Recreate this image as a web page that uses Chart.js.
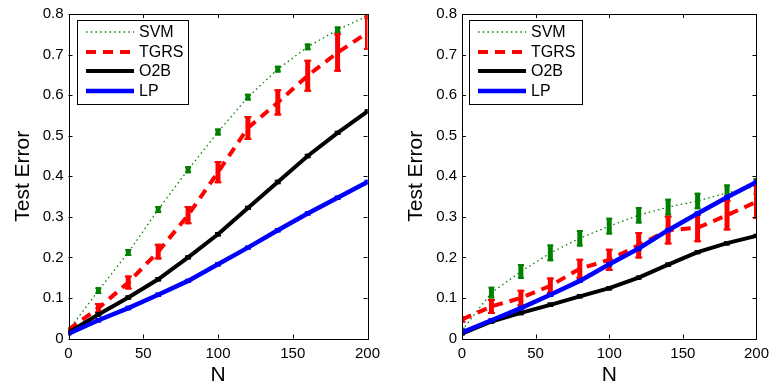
<!DOCTYPE html>
<html lang="en">
<head>
<meta charset="UTF-8">
<title>Test Error vs N</title>
<script src="https://cdn.jsdelivr.net/npm/chart.js"></script>
<style>
  body { margin: 0; background: #fff; }
  .panel { position: absolute; top: 0; }
</style>
</head>
<body>
<div class="panel" style="left:0"><canvas id="leftChart" width="390" height="388"></canvas></div>
<div class="panel" style="left:390px"><canvas id="rightChart" width="385" height="388"></canvas></div>
<script>
// x positions (N)
var nValues = [0, 20, 40, 60, 80, 100, 120, 140, 160, 180, 200];
var xTicks = [0, 50, 100, 150, 200];
var yTicks = [0, 0.1, 0.2, 0.3, 0.4, 0.5, 0.6, 0.7, 0.8];

// left panel
var svmLeft    = [0.02, 0.118, 0.212, 0.318, 0.416, 0.509, 0.595, 0.664, 0.719, 0.761, 0.795];
var svmLeftErr = [0.004, 0.006, 0.006, 0.006, 0.006, 0.006, 0.006, 0.006, 0.006, 0.006, 0.006];
var tgrsLeft    = [0.022, 0.075, 0.138, 0.214, 0.304, 0.41, 0.519, 0.582, 0.648, 0.705, 0.754];
var tgrsLeftErr = [0.004, 0.01, 0.015, 0.017, 0.02, 0.025, 0.027, 0.03, 0.037, 0.045, 0.04];
var o2bLeft    = [0.015, 0.059, 0.101, 0.146, 0.2, 0.257, 0.322, 0.386, 0.45, 0.507, 0.56];
var o2bLeftErr = [0.002, 0.003, 0.003, 0.003, 0.003, 0.003, 0.003, 0.003, 0.003, 0.003, 0.003];
var lpLeft    = [0.012, 0.045, 0.075, 0.108, 0.142, 0.183, 0.224, 0.267, 0.308, 0.347, 0.386];
var lpLeftErr = [0.002, 0.003, 0.003, 0.003, 0.003, 0.003, 0.003, 0.003, 0.003, 0.003, 0.003];

// right panel
var svmRight    = [0.02, 0.113, 0.165, 0.211, 0.247, 0.277, 0.304, 0.324, 0.339, 0.359, 0.375];
var svmRightErr = [0.004, 0.012, 0.016, 0.018, 0.018, 0.018, 0.018, 0.018, 0.018, 0.018, 0.018];
var tgrsRight    = [0.047, 0.079, 0.1, 0.13, 0.172, 0.194, 0.23, 0.267, 0.273, 0.304, 0.337];
var tgrsRightErr = [0.006, 0.016, 0.018, 0.018, 0.022, 0.025, 0.03, 0.033, 0.033, 0.035, 0.04];
var o2bRight    = [0.012, 0.042, 0.063, 0.083, 0.104, 0.124, 0.15, 0.182, 0.213, 0.235, 0.253];
var o2bRightErr = [0.002, 0.003, 0.003, 0.003, 0.003, 0.003, 0.003, 0.003, 0.003, 0.003, 0.003];
var lpRight    = [0.015, 0.045, 0.075, 0.108, 0.142, 0.183, 0.222, 0.267, 0.308, 0.348, 0.386];
var lpRightErr = [0.002, 0.003, 0.003, 0.003, 0.003, 0.003, 0.003, 0.003, 0.003, 0.003, 0.003];

var FONT = "'Liberation Sans', Arial, Helvetica, sans-serif";

function pts(vals) {
  return nValues.map(function (n, i) { return { x: n, y: vals[i] }; });
}

// errorbars, box, inward ticks and legend, drawn like matlab
var matlabPlot = {
  id: 'matlabPlot',
  afterDatasetDraw: function (chart, args) {
    var ds = chart.data.datasets[args.index];
    if (!ds.errors) return;
    var ctx = chart.ctx, xs = chart.scales.x, ys = chart.scales.y, a = chart.chartArea;
    ctx.save();
    ctx.beginPath();
    ctx.rect(a.left, a.top, a.right - a.left, a.bottom - a.top);
    ctx.clip();
    ctx.strokeStyle = ds.borderColor;
    ctx.setLineDash([]);
    ds.data.forEach(function (p, i) {
      var e = ds.errors[i];
      var x = xs.getPixelForValue(p.x);
      var y1 = ys.getPixelForValue(p.y - e), y2 = ys.getPixelForValue(p.y + e);
      ctx.lineWidth = ds.barWidth;
      ctx.beginPath();
      ctx.moveTo(x, y1 + 1); ctx.lineTo(x, y2 - 1);
      ctx.stroke();
      ctx.lineWidth = 2;
      ctx.beginPath();
      ctx.moveTo(x - ds.capHalf, y1); ctx.lineTo(x + ds.capHalf, y1);
      ctx.moveTo(x - ds.capHalf, y2); ctx.lineTo(x + ds.capHalf, y2);
      ctx.stroke();
    });
    ctx.restore();
  },
  afterDraw: function (chart, args, opts) {
    var ctx = chart.ctx, a = chart.chartArea, xs = chart.scales.x, ys = chart.scales.y;
    ctx.save();
    ctx.strokeStyle = '#000';
    ctx.lineWidth = 1;
    ctx.setLineDash([]);
    ctx.strokeRect(Math.round(a.left) + 0.5, Math.round(a.top) + 0.5,
      Math.round(a.right - a.left), Math.round(a.bottom - a.top));
    var t = 4;
    ctx.beginPath();
    xs.ticks.forEach(function (tk) {
      var x = Math.round(xs.getPixelForValue(tk.value)) + 0.5;
      ctx.moveTo(x, a.bottom); ctx.lineTo(x, a.bottom - t);
      ctx.moveTo(x, a.top); ctx.lineTo(x, a.top + t);
    });
    ys.ticks.forEach(function (tk) {
      var y = Math.round(ys.getPixelForValue(tk.value)) + 0.5;
      ctx.moveTo(a.left, y); ctx.lineTo(a.left + t, y);
      ctx.moveTo(a.right, y); ctx.lineTo(a.right - t, y);
    });
    ctx.stroke();

    // legend
    var lx = opts.x, ly = opts.y, w = opts.w, h = 84;
    ctx.fillStyle = '#fff';
    ctx.fillRect(lx, ly, w, h);
    ctx.strokeRect(lx + 0.5, ly + 0.5, w, h);
    var rows = [12, 32, 51, 71];
    ctx.font = '16px ' + FONT;
    ctx.textBaseline = 'middle';
    chart.data.datasets.forEach(function (ds, i) {
      var y = ly + rows[i];
      ctx.strokeStyle = ds.borderColor;
      ctx.lineWidth = ds.borderWidth;
      ctx.lineCap = 'butt';
      ctx.setLineDash(ds.borderDash || []);
      ctx.beginPath();
      ctx.moveTo(lx + 9, y); ctx.lineTo(lx + 57, y);
      ctx.stroke();
      ctx.fillStyle = '#000';
      ctx.fillText(ds.label, lx + 62, y + 1);
    });
    ctx.restore();
  }
};

function makeChart(id, svm, svmErr, tgrs, tgrsErr, o2b, o2bErr, lp, lpErr, pad, yWidth, titlePad, legend) {
  return new Chart(document.getElementById(id), {
    type: 'line',
    data: {
      datasets: [
        { label: 'SVM', data: pts(svm), errors: svmErr, borderColor: 'rgb(0,128,0)', borderWidth: 1.3,
          borderDash: [1.5, 3.2], barWidth: 5, capHalf: 3, order: 3 },
        { label: 'TGRS', data: pts(tgrs), errors: tgrsErr, borderColor: 'rgb(255,0,0)', borderWidth: 4,
          borderDash: [10, 7], barWidth: 5, capHalf: 3.5, order: 2 },
        { label: 'O2B', data: pts(o2b), errors: o2bErr, borderColor: '#000', borderWidth: 4,
          barWidth: 3, capHalf: 3, order: 1 },
        { label: 'LP', data: pts(lp), errors: lpErr, borderColor: 'rgb(0,0,255)', borderWidth: 4.5,
          barWidth: 3, capHalf: 3, order: 0 }
      ]
    },
    options: {
      responsive: false,
      animation: false,
      devicePixelRatio: 1,
      layout: { padding: pad },
      elements: { point: { radius: 0 }, line: { tension: 0, fill: false, borderCapStyle: 'butt' } },
      plugins: {
        legend: { display: false },
        tooltip: { enabled: false },
        matlabPlot: legend
      },
      scales: {
        x: {
          type: 'linear', min: 0, max: 200,
          afterBuildTicks: function (s) { s.ticks = xTicks.map(function (v) { return { value: v }; }); },
          afterFit: function (s) { s.height = 49.5; },
          grid: { display: false, drawTicks: false },
          border: { display: false },
          ticks: { color: '#000', font: { family: FONT, size: 15 }, padding: 6, maxRotation: 0 },
          title: { display: true, text: 'N', color: '#000', font: { family: FONT, size: 21 }, padding: { top: 0, bottom: 0 } }
        },
        y: {
          min: 0, max: 0.8,
          afterBuildTicks: function (s) { s.ticks = yTicks.map(function (v) { return { value: v }; }); },
          afterFit: function (s) { s.width = yWidth; },
          grid: { display: false, drawTicks: false },
          border: { display: false },
          ticks: {
            color: '#000', font: { family: FONT, size: 15 }, padding: 5,
            callback: function (v) { return v === 0 ? '0' : v.toFixed(1); }
          },
          title: { display: true, text: 'Test Error', color: '#000', font: { family: FONT, size: 21 }, padding: { top: titlePad, bottom: 0 } }
        }
      }
    },
    plugins: [matlabPlot]
  });
}

makeChart('leftChart', svmLeft, svmLeftErr, tgrsLeft, tgrsLeftErr, o2bLeft, o2bLeftErr, lpLeft, lpLeftErr,
  { top: 13, right: 22.5, left: 0, bottom: 0 }, 68.5, 11, { x: 77, y: 20, w: 111 });
makeChart('rightChart', svmRight, svmRightErr, tgrsRight, tgrsRightErr, o2bRight, o2bRightErr, lpRight, lpRightErr,
  { top: 13, right: 14, left: 0, bottom: 0 }, 72, 14, { x: 79, y: 20, w: 113 });
</script>
</body>
</html>
